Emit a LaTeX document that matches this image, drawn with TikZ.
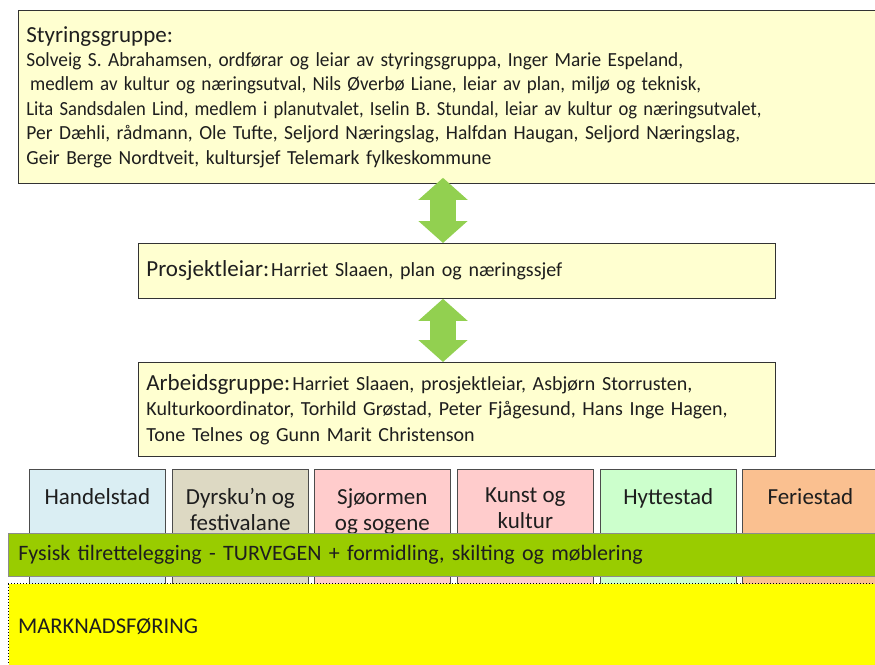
\documentclass[tikz,border=0pt]{standalone}
\usepackage{fontspec}
\usepackage{graphicx}
\setmainfont{Carlito}
\usetikzlibrary{arrows.meta}
\definecolor{boxyellow}{RGB}{255,255,208}
\definecolor{arrowgreen}{RGB}{146,208,80}
\definecolor{bargreen}{RGB}{153,204,0}
\definecolor{mkyellow}{RGB}{255,255,0}
\definecolor{cblue}{RGB}{218,238,243}
\definecolor{ctan}{RGB}{221,217,195}
\definecolor{cpink}{RGB}{255,204,204}
\definecolor{cmint}{RGB}{204,255,204}
\definecolor{corange}{RGB}{250,192,144}
\definecolor{txt}{RGB}{30,30,30}
\newcommand{\hsq}[2]{\scalebox{#1}[1]{#2}}
\begin{document}
\begin{tikzpicture}[x=1pt,y=-1pt,
  infobox/.style={draw=black!80, line width=0.8pt, fill=boxyellow, anchor=north west,
    inner xsep=8pt, inner ysep=0pt, align=left, text=txt},
  colbox/.style={draw=black!70, line width=0.7pt, anchor=north west, minimum width=136pt, minimum height=131pt, inner sep=0pt},
  coltext/.style={anchor=north, align=center, text=txt, font=\fontsize{23}{26}\selectfont, inner sep=0pt},
  dblarrow/.style={line width=26pt, draw=arrowgreen,
    {Triangle[width=48pt,length=22pt]}-{Triangle[width=48pt,length=22pt]}}
]
\useasboundingbox (0,0) rectangle (875,664);
\clip (0,0) rectangle (875,664);

% top box
\node[infobox, minimum width=857pt, minimum height=173pt, text width=841pt,
  font=\fontsize{20}{24.4}\selectfont] (steer) at (18,10)
 {{\fontsize{23}{24.4}\selectfont Styringsgruppe:}\\
  \hsq{0.966}{Solveig S. Abrahamsen, ordførar og leiar av styringsgruppa, Inger Marie Espeland,}\\
  \hsq{0.951}{\hspace*{4pt}medlem av kultur og næringsutval, Nils Øverbø Liane, leiar av plan, miljø og teknisk,}\\
  \hsq{0.931}{Lita Sandsdalen Lind, medlem i planutvalet, Iselin B. Stundal, leiar av kultur og næringsutvalet,}\\
  \hsq{0.974}{Per Dæhli, rådmann, Ole Tufte, Seljord Næringslag, Halfdan Haugan, Seljord Næringslag,}\\
  \hsq{0.979}{Geir Berge Nordtveit, kultursjef Telemark fylkeskommune}};

% project leader
\node[infobox, minimum width=637pt, minimum height=55pt, text width=621pt,
  font=\fontsize{20}{24}\selectfont] (lead) at (138,243)
 {{\fontsize{23}{24}\selectfont Prosjektleiar:}\hspace{2pt}Harriet Slaaen, plan og næringssjef};

% working group
\node[infobox, minimum width=637pt, minimum height=94pt, text width=621pt,
  font=\fontsize{20}{25.5}\selectfont] (work) at (138,362)
 {{\fontsize{23}{25.5}\selectfont Arbeidsgruppe:}\hspace{2pt}Harriet Slaaen, prosjektleiar, Asbjørn Storrusten,\\
  Kulturkoordinator, Torhild Grøstad, Peter Fjågesund, Hans Inge Hagen,\\
  Tone Telnes og Gunn Marit Christenson};

% arrows
\draw[dblarrow, shorten <=-6pt] (steer.south -| 443,0) -- (lead.north -| 443,0);
\draw[dblarrow] (lead.south -| 443,0) -- (work.north -| 443,0);

% columns
\node[colbox, fill=cblue] (c1) at (29,469) {};
\node[colbox, fill=ctan] (c2) at (172,469) {};
\node[colbox, fill=cpink] (c3) at (314,469) {};
\node[colbox, fill=cpink] (c4) at (457,469) {};
\node[colbox, fill=cmint] (c5) at (600,469) {};
\node[colbox, fill=corange] (c6) at (742,469) {};
\node[coltext] (t1) at ([yshift=-19pt]c1.north) {Handelstad};
\node[coltext] (t2) at ([yshift=-19pt]c2.north) {Dyrsku’n og\\festivalane};
\node[coltext] (t3) at ([yshift=-19pt]c3.north) {Sjøormen\\og sogene};
\node[coltext] (t4) at ([yshift=-19pt]c4.north) {Kunst og\\kultur};
\node[coltext] (t5) at ([yshift=-19pt]c5.north) {Hyttestad};
\node[coltext] (t6) at ([yshift=-19pt]c6.north) {Feriestad};

% green bar
\node[draw=black!45, line width=0.6pt, fill=bargreen, anchor=north west, minimum width=880pt, minimum height=43pt,
  text width=864pt, inner xsep=10pt, align=left, text=txt, font=\fontsize{22}{24}\selectfont] (bar) at (8,533)
  {Fysisk tilrettelegging - TURVEGEN + formidling, skilting og møblering};

% marketing
\node[draw=black, line width=1pt, dotted, fill=mkyellow, anchor=north west, minimum width=880pt, minimum height=100pt,
  inner sep=0pt] (mk) at (8,583) {};
\node[anchor=west, text=txt, inner sep=0pt, font=\fontsize{22.5}{24}\selectfont] (mktext) at (18,626) {MARKNADSFØRING};
\end{tikzpicture}
\end{document}
